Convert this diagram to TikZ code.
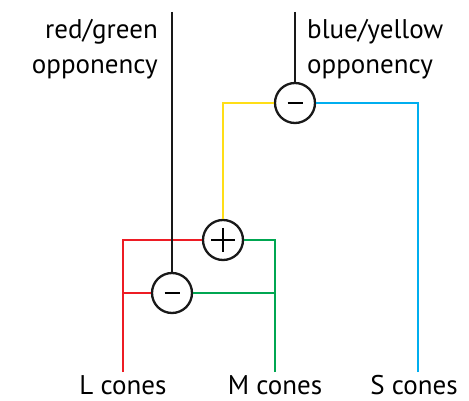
\documentclass[tikz,border=0pt]{standalone}
\usepackage{fontspec}
\setmainfont{PT Sans}
\usetikzlibrary{calc}
\definecolor{cred}{RGB}{237,28,36}
\definecolor{cgreen}{RGB}{0,166,81}
\definecolor{cyellow}{RGB}{255,222,23}
\definecolor{cblue}{RGB}{0,174,239}
\begin{document}
\begin{tikzpicture}[x=1pt,y=-1pt,
  wire/.style={line width=2.3pt},
  sumnode/.style={circle,draw=black!90,line width=2.3pt,minimum size=40pt,inner sep=0pt,fill=white},
  lbl/.style={font=\fontsize{27}{35}\selectfont,inner sep=0pt}]
\useasboundingbox (0,0) rectangle (469,401);
% nodes
\node[sumnode] (rg) at (172,293) {};
\node[sumnode] (pl) at (223,240) {};
\node[sumnode] (by) at (295,103) {};
\coordinate (rgtop) at (172,12);
\coordinate (bytop) at (295,12);
\coordinate (Lb) at (123,372);
\coordinate (Mb) at (275,372);
\coordinate (Sb) at (418,372);
\coordinate (Lt) at (123,240);
\coordinate (Mt) at (275,240);
\coordinate (Lm) at (123,293);
\coordinate (Mm) at (275,293);
\coordinate (Yc) at (223,103);
\coordinate (Bc) at (418,103);
% wires
\draw[wire,cred,line join=miter] (Lb) -- (Lt) -- (pl.west);
\draw[wire,cred] (Lm) -- (rg.west);
\draw[wire,cgreen,line join=miter] (Mb) -- (Mt) -- (pl.east);
\draw[wire,cgreen] (Mm) -- (rg.east);
\draw[wire,cyellow,line join=miter] (pl.north) -- (Yc) -- (by.west);
\draw[wire,cblue,line join=miter] (Sb) -- (Bc) -- (by.east);
\draw[wire,black!90] (rgtop) -- (rg.north);
\draw[wire,black!90] (bytop) -- (by.north);
% signs
\draw[line width=2pt] ($(rg)+(-7.5,0)$) -- ($(rg)+(7.5,0)$);
\draw[line width=2pt] ($(by)+(-7.5,0)$) -- ($(by)+(7.5,0)$);
\draw[line width=2.3pt] ($(pl)+(-12,0)$) -- ($(pl)+(12,0)$);
\draw[line width=2.3pt] ($(pl)+(0,-12)$) -- ($(pl)+(0,12)$);
% labels
\node[lbl,anchor=north east,align=right] (rgl) at (158,19) {red/green\\opponency};
\node[lbl,anchor=north west,align=left] (byl) at (307,19) {blue/yellow\\opponency};
\node[lbl,anchor=base,text depth=0pt] (Ll) at (123,394) {L cones};
\node[lbl,anchor=base,text depth=0pt] (Ml) at (275,394) {M cones};
\node[lbl,anchor=base,text depth=0pt] (Sl) at (414,394) {S cones};
\end{tikzpicture}
\end{document}
